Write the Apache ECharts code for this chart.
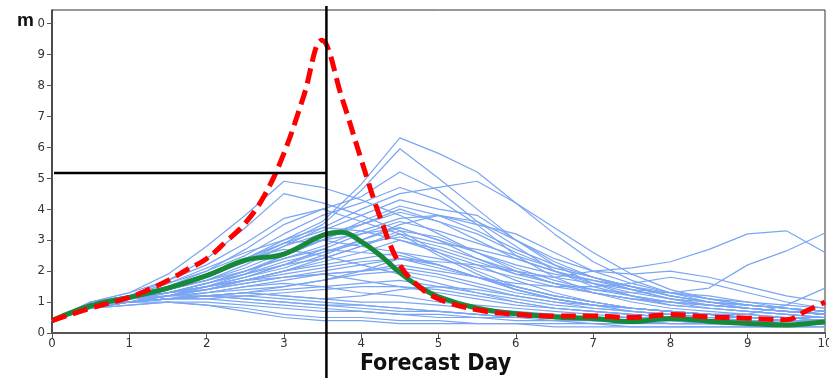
<!DOCTYPE html>
<html>
<head>
<meta charset="utf-8">
<script src="https://cdn.jsdelivr.net/npm/echarts@6/dist/echarts.min.js"></script>
<style>
html,body{margin:0;padding:0;background:#fff;}
#main{width:829px;height:378px;}
</style>
</head>
<body>
<div id="main"></div>
<script>
// ---- data ----
const xTicks = [0,1,2,3,4,5,6,7,8,9,10];
const yTicks = [0,1,2,3,4,5,6,7,8,9,10];
const days = [0,0.5,1,1.5,2,2.5,3,3.5,4,4.5,5,5.5,6,6.5,7,7.5,8,8.5,9,9.5,10];
const members = [
  [0.4,0.9,1.2,1.6,2.1,2.6,3.0,3.6,4.8,6.3,5.8,5.2,4.2,3.2,2.3,1.7,1.3,1.0,0.8,0.7,0.6],
  [0.4,1.0,1.2,1.5,1.9,2.4,2.9,3.5,4.6,5.95,5.0,4.0,3.0,2.2,1.6,1.2,0.9,0.8,0.7,0.6,0.5],
  [0.4,1.0,1.3,1.9,2.8,3.8,4.9,4.7,4.3,3.8,3.2,2.6,2.0,1.6,1.3,1.1,1.0,0.9,0.8,0.7,0.6],
  [0.4,0.9,1.2,1.7,2.4,3.4,4.5,4.2,3.8,3.3,2.6,2.0,1.5,1.2,1.0,0.8,0.7,0.6,0.5,0.5,0.4],
  [0.4,0.9,1.1,1.4,1.7,2.2,2.8,3.4,4.0,4.5,4.7,4.9,4.2,3.4,2.6,1.9,1.4,1.1,0.9,0.8,0.7],
  [0.4,0.9,1.1,1.3,1.5,1.8,2.2,2.6,3.0,3.4,3.0,2.4,1.9,1.8,2.0,2.1,2.3,2.7,3.2,3.3,2.6],
  [0.4,0.9,1.1,1.3,1.5,1.7,2.0,2.3,2.6,3.0,2.7,2.3,1.9,1.6,1.4,1.3,1.3,1.45,2.2,2.65,3.23],
  [0.4,0.8,1.0,1.1,1.2,1.3,1.5,1.7,2.0,2.4,2.2,1.8,1.4,1.1,0.9,0.8,0.7,0.6,0.6,0.9,1.45],
  [0.4,1.0,1.2,1.6,2.0,2.7,3.5,4.0,4.4,5.2,4.6,3.6,2.8,2.0,1.5,1.2,1.0,0.8,0.7,0.6,0.5],
  [0.4,0.9,1.1,1.5,2.0,2.5,3.2,3.8,4.2,4.7,4.3,3.5,2.5,1.8,1.3,1.0,0.8,0.7,0.6,0.5,0.5],
  [0.4,0.9,1.2,1.5,1.9,2.4,2.9,3.3,3.8,4.3,4.0,3.8,3.0,2.3,1.8,1.4,1.1,0.9,0.8,0.7,0.6],
  [0.4,0.8,1.0,1.3,1.6,2.0,2.4,2.8,3.3,3.7,3.8,3.5,3.2,2.6,2.0,1.6,1.3,1.1,0.9,0.8,0.7],
  [0.4,0.9,1.1,1.4,1.8,2.3,2.8,3.2,3.5,3.9,3.6,3.2,2.6,2.1,1.8,1.5,1.2,1.0,0.9,0.8,0.7],
  [0.4,1.0,1.3,1.7,2.2,2.9,3.7,4.0,3.6,3.2,2.5,1.9,1.4,1.1,0.9,0.7,0.6,0.5,0.5,0.4,0.4],
  [0.4,0.9,1.2,1.5,1.9,2.4,3.0,3.4,3.3,3.0,2.6,2.2,1.7,1.3,1.0,0.8,0.7,0.6,0.5,0.5,0.4],
  [0.4,0.9,1.1,1.4,1.7,2.1,2.6,3.0,3.2,3.4,3.0,2.6,2.1,1.7,1.4,1.2,1.0,0.9,0.8,0.7,0.6],
  [0.4,0.8,1.0,1.2,1.5,1.8,2.2,2.7,3.2,3.6,3.3,2.9,2.5,2.1,1.8,1.5,1.3,1.1,1.0,0.9,0.8],
  [0.4,0.9,1.1,1.3,1.6,1.9,2.3,2.6,2.9,3.1,2.8,2.4,2.0,1.6,1.3,1.1,0.9,0.8,0.7,0.6,0.5],
  [0.4,0.9,1.1,1.4,1.7,2.0,2.4,2.7,2.6,2.5,2.2,1.8,1.5,1.2,1.0,0.8,0.7,0.6,0.5,0.5,0.4],
  [0.4,0.8,1.0,1.2,1.4,1.7,2.0,2.2,2.4,2.6,2.4,2.1,1.8,1.5,1.3,1.1,1.0,0.9,0.8,0.7,0.6],
  [0.4,0.9,1.1,1.3,1.5,1.7,1.9,2.1,2.3,2.4,2.1,1.8,1.5,1.2,1.0,0.8,0.7,0.6,0.6,0.5,0.5],
  [0.4,0.8,1.0,1.2,1.3,1.5,1.7,1.9,2.0,2.1,1.9,1.6,1.3,1.1,0.9,0.8,0.7,0.6,0.5,0.5,0.4],
  [0.4,0.9,1.1,1.2,1.3,1.4,1.5,1.7,1.9,2.0,1.8,1.5,1.2,1.0,0.8,0.7,0.6,0.5,0.5,0.4,0.4],
  [0.4,0.9,1.0,1.1,1.2,1.3,1.4,1.5,1.6,1.7,1.5,1.3,1.1,0.9,0.8,0.7,0.6,0.5,0.5,0.4,0.4],
  [0.4,0.8,1.0,1.1,1.1,1.2,1.3,1.4,1.5,1.5,1.4,1.2,1.0,0.8,0.7,0.6,0.5,0.5,0.4,0.4,0.4],
  [0.4,0.8,0.9,1.0,1.0,0.9,0.8,0.7,0.7,0.6,0.5,0.5,0.4,0.4,0.3,0.3,0.3,0.3,0.3,0.3,0.3],
  [0.4,0.8,0.9,1.0,0.9,0.8,0.6,0.5,0.5,0.4,0.4,0.3,0.3,0.3,0.3,0.2,0.2,0.2,0.2,0.2,0.2],
  [0.4,0.9,1.0,1.0,0.9,0.7,0.5,0.4,0.4,0.3,0.3,0.3,0.3,0.2,0.2,0.2,0.2,0.2,0.2,0.2,0.2],
  [0.4,0.8,1.0,1.1,1.1,1.0,0.9,0.8,0.7,0.6,0.6,0.5,0.5,0.4,0.4,0.4,0.3,0.3,0.3,0.3,0.3],
  [0.4,0.9,1.0,1.1,1.2,1.1,1.0,0.9,0.9,0.8,0.7,0.6,0.5,0.5,0.4,0.4,0.4,0.3,0.3,0.3,0.3],
  [0.4,0.9,1.1,1.2,1.2,1.3,1.2,1.1,1.0,1.0,0.9,0.8,0.7,0.6,0.5,0.5,0.4,0.4,0.4,0.3,0.3],
  [0.4,0.8,1.0,1.1,1.3,1.5,1.6,1.5,1.3,1.2,1.0,0.9,0.8,0.7,0.6,0.5,0.5,0.4,0.4,0.4,0.3],
  [0.4,0.9,1.1,1.3,1.4,1.6,1.8,1.9,1.7,1.5,1.3,1.1,0.9,0.8,0.7,0.6,0.5,0.5,0.4,0.4,0.4],
  [0.4,0.9,1.0,1.2,1.4,1.7,2.0,2.4,2.8,3.3,3.1,2.6,2.2,1.9,1.7,1.5,1.2,1.0,0.8,0.7,0.6],
  [0.4,0.8,1.0,1.2,1.5,1.9,2.5,3.0,3.6,4.1,3.8,3.3,2.7,2.2,1.8,1.5,1.2,1.0,0.9,0.8,0.7],
  [0.4,0.9,1.1,1.3,1.5,1.7,1.8,1.9,2.0,2.2,2.0,1.8,1.6,1.5,1.5,1.6,1.8,1.6,1.3,1.0,0.8],
  [0.4,0.9,1.1,1.3,1.5,1.8,2.1,2.5,3.0,3.5,3.8,3.6,3.0,2.4,2.0,1.9,2.0,1.8,1.5,1.2,1.0],
  [0.4,0.8,1.0,1.1,1.2,1.3,1.2,1.1,1.2,1.4,1.5,1.4,1.2,1.0,0.9,0.8,0.7,0.6,0.5,0.5,0.4],
  [0.4,0.9,1.0,1.1,1.2,1.1,1.0,0.9,0.8,0.7,0.7,0.6,0.5,0.5,0.4,0.4,0.4,0.3,0.3,0.3,0.3],
  [0.4,0.9,1.1,1.3,1.6,2.0,2.5,3.0,3.5,4.0,3.6,3.0,2.4,2.0,1.6,1.4,1.3,1.2,1.0,0.8,0.6],
  [0.4,0.9,1.2,1.5,1.8,2.3,2.9,3.0,2.8,2.6,2.2,1.8,1.4,1.1,0.9,0.8,0.7,0.6,0.5,0.4,0.4],
  [0.4,1.0,1.2,1.5,1.9,2.4,2.7,2.5,2.2,1.9,1.6,1.3,1.0,0.8,0.7,0.6,0.5,0.4,0.4,0.4,0.3],
  [0.4,0.9,1.1,1.3,1.6,1.9,2.2,2.4,2.8,3.2,2.9,2.7,2.4,2.0,1.7,1.4,1.1,1.0,0.9,0.8,0.7],
  [0.4,0.8,1.0,1.2,1.4,1.6,1.8,2.0,2.2,2.4,2.3,2.2,2.0,1.8,1.6,1.3,1.1,0.9,0.8,0.7,0.6],
  [0.4,0.9,1.0,1.1,1.2,1.2,1.1,1.0,0.9,0.8,0.7,0.6,0.5,0.5,0.4,0.4,0.3,0.3,0.3,0.3,0.3]
];
const redDays   = [0,0.5,1,1.25,1.5,1.75,2,2.25,2.5,2.75,3,3.25,3.49,3.75,4,4.25,4.5,4.75,5,5.5,6,6.5,7,7.5,8,8.5,9,9.5,9.75,10];
const redValues = [0.4,0.8,1.15,1.4,1.7,2.05,2.4,2.95,3.55,4.45,5.8,7.6,9.45,7.6,5.6,3.7,2.2,1.5,1.1,0.75,0.6,0.55,0.55,0.5,0.6,0.52,0.48,0.43,0.7,1.0];
const greenDays   = [0,0.5,1,1.5,2,2.5,3,3.5,3.75,4,4.25,4.5,4.75,5,5.5,6,6.5,7,7.5,8,8.5,9,9.5,10];
const greenValues = [0.4,0.88,1.15,1.45,1.85,2.35,2.55,3.15,3.25,2.95,2.5,1.95,1.5,1.17,0.8,0.62,0.52,0.47,0.37,0.47,0.38,0.31,0.26,0.36];
const markerDay = 3.55;
const thresholdLevel = 5.17;

// ---- chart ----
const font = '"Liberation Sans Narrow","Arial Narrow","DejaVu Sans Condensed","Liberation Sans",sans-serif';
const chart = echarts.init(document.getElementById('main'), null, {renderer: 'canvas'});
const series = members.map(m => ({
  type: 'line', data: days.map((d, i) => [d, m[i]]), showSymbol: false, silent: true,
  lineStyle: {color: '#7aa5f2', width: 1.2}, z: 2, animation: false
}));
series.push({
  type: 'line', data: greenDays.map((d, i) => [d, greenValues[i]]), smooth: 0.4, showSymbol: false,
  lineStyle: {color: '#178a3a', width: 5}, z: 3, animation: false
});
series.push({
  type: 'line', data: redDays.map((d, i) => [d, redValues[i]]), smooth: 0.4, showSymbol: false,
  lineStyle: {color: '#ff0000', width: 5, type: [15, 7]}, z: 4, animation: false
});

chart.setOption({
  animation: false,
  backgroundColor: '#ffffff',
  grid: {left: 52, right: 4, top: 10, bottom: 45, outerBoundsMode: 'none', containLabel: false,
         show: true, borderColor: '#333', borderWidth: 1, backgroundColor: 'transparent'},
  xAxis: {
    type: 'value', min: 0, max: 10, interval: 1,
    axisLine: {show: true, onZero: false, lineStyle: {color: '#555', width: 2}},
    axisTick: {show: true, length: 5, lineStyle: {color: '#555'}, customValues: xTicks},
    axisLabel: {color: '#333', fontSize: 13, fontFamily: font, margin: 4, customValues: xTicks},
    splitLine: {show: false}
  },
  yAxis: {
    type: 'value', min: 0, max: 10.43,
    axisLine: {show: true, onZero: false, lineStyle: {color: '#333', width: 1.5}},
    axisTick: {show: true, length: 5, lineStyle: {color: '#555'}, customValues: yTicks},
    axisLabel: {color: '#333', fontSize: 13, fontFamily: font, margin: 7, customValues: yTicks},
    splitLine: {show: false}
  },
  series: series
});

function drawOverlays() {
  const top = chart.convertToPixel({gridIndex: 0}, [markerDay, 10.43]);
  const bottom = chart.convertToPixel({gridIndex: 0}, [markerDay, 0]);
  const hStart = chart.convertToPixel({gridIndex: 0}, [0, thresholdLevel]);
  const hEnd = chart.convertToPixel({gridIndex: 0}, [markerDay, thresholdLevel]);
  const xMid = chart.convertToPixel({gridIndex: 0}, [5, 0]);
  chart.setOption({
    graphic: [
      {type: 'line', shape: {x1: hStart[0] + 2, y1: hStart[1], x2: hEnd[0], y2: hEnd[1]},
       style: {stroke: '#000', lineWidth: 2.5}, z: 10},
      {type: 'line', shape: {x1: top[0], y1: top[1] - 4, x2: bottom[0], y2: 378},
       style: {stroke: '#000', lineWidth: 2.5}, z: 10},
      {type: 'text', left: 15, top: 11, z: 20,
       style: {text: 'm', font: 'bold 19px "Liberation Sans", Arial, sans-serif', fill: '#111',
               backgroundColor: '#fff', padding: [0, 3, 0, 2]}},
      {type: 'text', x: xMid[0] - 3, y: 364, z: 20,
       style: {text: 'Forecast Day', font: 'bold 23px ' + font, fill: '#111',
               textAlign: 'center', textVerticalAlign: 'middle'}}
    ]
  });
}
drawOverlays();
</script>
</body>
</html>
